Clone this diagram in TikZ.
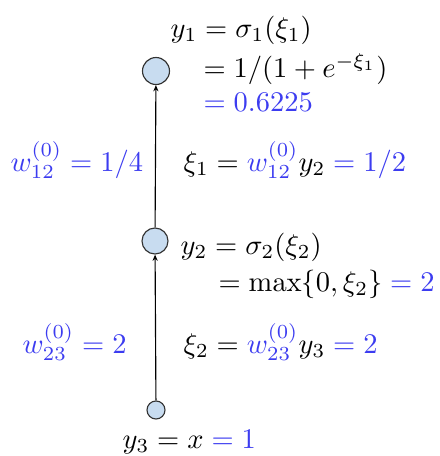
\documentclass[tikz,border=0pt]{standalone}
\usepackage{amsmath}
\usetikzlibrary{arrows.meta}
\definecolor{wblue}{RGB}{60,60,240}
\definecolor{nodefill}{RGB}{200,220,240}
\newcommand{\bl}[1]{{\color{wblue}#1}}
\newcommand{\beq}{\mathrel{\color{wblue}=}}
\begin{document}
\begin{tikzpicture}[x=0.351pt,y=-0.351pt,
  neuron/.style={circle,draw=black!80,fill=nodefill,line width=0.4pt,inner sep=0pt},
  lbl/.style={anchor=west,inner sep=0pt,font=\fontsize{10}{12}\selectfont},
  conn/.style={line width=0.4pt,-{Stealth[length=2.2pt,width=1.8pt]}}]
\useasboundingbox (0,0) rectangle (440,456);
\node[neuron,minimum size=27*0.351pt] (n1) at (156,71) {};
\node[neuron,minimum size=26*0.351pt] (n2) at (155,241) {};
\node[neuron,minimum size=18*0.351pt] (n3) at (156,410) {};
\draw[conn] (n3) -- (n2);
\draw[conn] (n2) -- (n1);
\node[lbl] (t1) at (170,30) {$y_1 = \sigma_1(\xi_1)$};
\node[lbl] (t2) at (203,69) {$= 1/(1+e^{-\xi_1})$};
\node[lbl] (t3) at (203,102) {$\color{wblue}= 0.6225$};
\node[lbl] (t4) at (10,160) {$\color{wblue}w_{12}^{(0)} = 1/4$};
\node[lbl] (t5) at (183,160) {$\xi_1 = \bl{w_{12}^{(0)}} y_2 \beq \bl{1/2}$};
\node[lbl] (t6) at (180,247) {$y_2 = \sigma_2(\xi_2)$};
\node[lbl] (t7) at (218,284) {$= \max\{0,\xi_2\} \beq \bl{2}$};
\node[lbl] (t8) at (22,342) {$\color{wblue}w_{23}^{(0)} = 2$};
\node[lbl] (t9) at (183,342) {$\xi_2 = \bl{w_{23}^{(0)}} y_3 \beq \bl{2}$};
\node[lbl] (t10) at (122,442) {$y_3 = x \beq \bl{1}$};
\end{tikzpicture}
\end{document}
